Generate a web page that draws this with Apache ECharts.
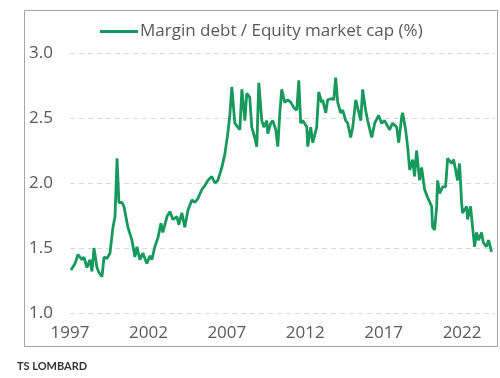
<!DOCTYPE html>
<html>
<head>
<meta charset="utf-8">
<script src="https://cdn.jsdelivr.net/npm/echarts@6/dist/echarts.min.js"></script>
<style>
  html, body { margin: 0; padding: 0; background: #fff; }
  #chart { width: 500px; height: 378px; }
</style>
</head>
<body>
<div id="chart"></div>
<script>
// margin debt / equity market cap
const years = [
  1997.06, 1997.32, 1997.51, 1997.76, 1997.89, 1998.08, 1998.27, 1998.40, 1998.53, 1998.72,
  1998.85, 1999.04, 1999.17, 1999.36, 1999.55, 1999.74, 1999.87, 2000.00, 2000.12, 2000.31,
  2000.44, 2000.69, 2000.95, 2001.14, 2001.27, 2001.46, 2001.65, 2001.90, 2002.10, 2002.22,
  2002.41, 2002.61, 2002.80, 2002.92, 2003.18, 2003.37, 2003.56, 2003.82, 2003.94, 2004.13,
  2004.32, 2004.52, 2004.77, 2004.96, 2005.15, 2005.41, 2005.60, 2005.79, 2006.04, 2006.24,
  2006.43, 2006.68, 2006.87, 2007.06, 2007.19, 2007.32, 2007.51, 2007.70, 2007.83, 2007.96,
  2008.15, 2008.27, 2008.46, 2008.59, 2008.78, 2008.91, 2009.04, 2009.23, 2009.36, 2009.55,
  2009.61, 2009.80, 2009.93, 2010.12, 2010.25, 2010.38, 2010.50, 2010.69, 2010.89, 2011.08,
  2011.27, 2011.46, 2011.59, 2011.71, 2011.84, 2012.10, 2012.16, 2012.35, 2012.48, 2012.73,
  2012.86, 2013.05, 2013.11, 2013.31, 2013.43, 2013.69, 2013.82, 2013.94, 2014.07, 2014.26,
  2014.39, 2014.58, 2014.71, 2014.90, 2015.03, 2015.22, 2015.34, 2015.54, 2015.66, 2015.85,
  2015.98, 2016.24, 2016.43, 2016.68, 2016.87, 2017.06, 2017.38, 2017.57, 2017.83, 2017.96,
  2018.15, 2018.21, 2018.40, 2018.53, 2018.66, 2018.85, 2018.97, 2019.10, 2019.29, 2019.42,
  2019.61, 2019.80, 2020.06, 2020.12, 2020.25, 2020.38, 2020.44, 2020.57, 2020.76, 2020.95,
  2021.08, 2021.33, 2021.46, 2021.59, 2021.71, 2021.84, 2021.97, 2022.03, 2022.29, 2022.35,
  2022.54, 2022.67, 2022.80, 2022.92, 2023.05, 2023.24, 2023.36, 2023.56, 2023.69, 2023.88
];
const ratio = [
  1.33, 1.38, 1.45, 1.41, 1.43, 1.35, 1.41, 1.32, 1.50, 1.35,
  1.31, 1.28, 1.43, 1.42, 1.46, 1.66, 1.74, 2.19, 1.85, 1.85,
  1.82, 1.66, 1.56, 1.43, 1.51, 1.41, 1.46, 1.38, 1.44, 1.41,
  1.51, 1.58, 1.69, 1.62, 1.74, 1.78, 1.72, 1.74, 1.68, 1.77,
  1.66, 1.79, 1.87, 1.85, 1.88, 1.95, 1.98, 2.02, 2.05, 2.00,
  2.02, 2.12, 2.22, 2.38, 2.52, 2.74, 2.46, 2.43, 2.41, 2.72,
  2.48, 2.69, 2.66, 2.43, 2.35, 2.28, 2.77, 2.48, 2.43, 2.48,
  2.38, 2.46, 2.48, 2.41, 2.28, 2.54, 2.72, 2.62, 2.64, 2.62,
  2.58, 2.56, 2.79, 2.46, 2.48, 2.43, 2.28, 2.43, 2.31, 2.43,
  2.70, 2.62, 2.64, 2.54, 2.64, 2.65, 2.64, 2.81, 2.62, 2.54,
  2.56, 2.48, 2.46, 2.35, 2.43, 2.64, 2.58, 2.48, 2.72, 2.56,
  2.48, 2.35, 2.46, 2.52, 2.46, 2.48, 2.41, 2.46, 2.43, 2.31,
  2.51, 2.54, 2.41, 2.28, 2.10, 2.18, 2.05, 2.25, 2.02, 2.12,
  1.95, 1.89, 1.82, 1.66, 1.64, 1.82, 2.02, 1.92, 1.97, 1.97,
  2.19, 2.15, 2.18, 2.10, 2.02, 2.15, 1.85, 1.77, 1.82, 1.72,
  1.82, 1.66, 1.51, 1.62, 1.56, 1.62, 1.54, 1.51, 1.56, 1.47
];
const startYear = 1997;
const yTicks = [1.0, 1.5, 2.0, 2.5, 3.0];

const chart = echarts.init(document.getElementById('chart'));

const lineData = years.map((y, i) => [y - startYear, ratio[i]]);

chart.setOption({
  animation: false,
  backgroundColor: '#fff',
  textStyle: { fontFamily: 'Open Sans, sans-serif' },
  graphic: [
    {
      type: 'rect',
      shape: { x: 24.5, y: 10.5, width: 473, height: 336 },
      style: { fill: 'none', stroke: '#a6a6a6', lineWidth: 1 },
      silent: true
    },
    {
      type: 'text',
      left: 17,
      top: 361,
      style: {
        text: 'TS LOMBARD',
        fill: '#333',
        font: 'bold 11px Lato, sans-serif'
      }
    }
  ],
  legend: {
    top: 23,
    left: 100,
    padding: 0,
    icon: 'rect',
    itemWidth: 38,
    itemHeight: 3,
    itemGap: 10,
    textStyle: { fontSize: 17, color: '#595959', padding: [0, 0, 0, -3] },
    data: ['Margin debt / Equity market cap (%)']
  },
  grid: { left: 70, right: 5, top: 53, bottom: 65 },
  xAxis: {
    type: 'value',
    min: 0,
    max: 27.1,
    interval: 5,
    axisLine: { show: false },
    axisTick: { show: false },
    splitLine: { show: false },
    axisLabel: {
      color: '#595959',
      fontSize: 17,
      margin: 12,
      showMaxLabel: false,
      formatter: v => String(startYear + v)
    }
  },
  yAxis: {
    type: 'value',
    min: yTicks[0],
    max: yTicks[yTicks.length - 1],
    interval: 0.5,
    axisLine: { show: false },
    axisTick: { show: false },
    splitLine: { lineStyle: { color: '#d9d9d9', type: [5, 4], width: 1 } },
    axisLabel: {
      color: '#595959',
      fontSize: 17,
      margin: 17,
      formatter: v => v.toFixed(1)
    }
  },
  series: [{
    name: 'Margin debt / Equity market cap (%)',
    type: 'line',
    data: lineData,
    symbol: 'none',
    itemStyle: { color: '#17995d' },
    lineStyle: { color: '#17995d', width: 2.8 }
  }]
});
</script>
</body>
</html>
